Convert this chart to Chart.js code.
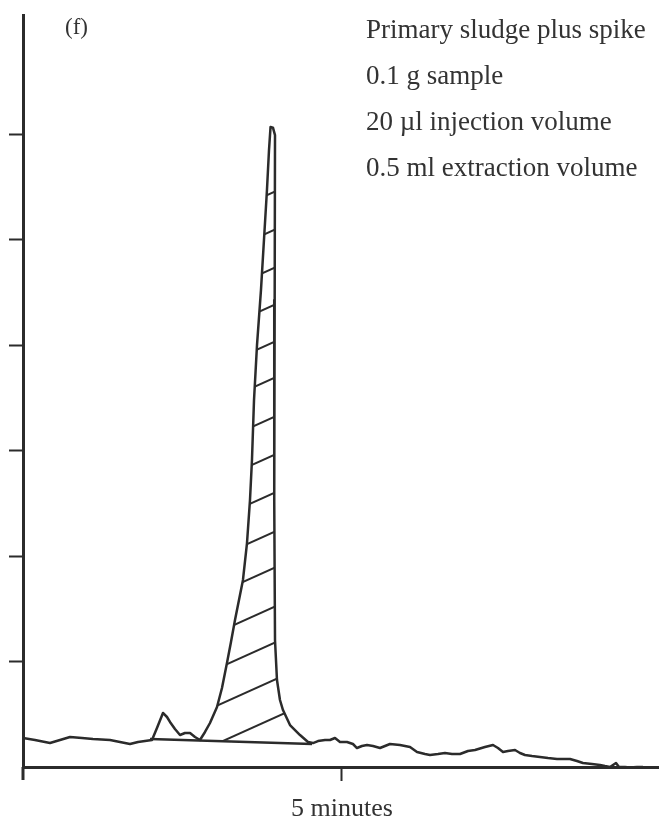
<!DOCTYPE html>
<html>
<head>
<meta charset="utf-8">
<script src="https://cdn.jsdelivr.net/npm/chart.js@4"></script>
<style>
  html, body { margin: 0; padding: 0; background: #fff; }
  #chart { display: block; }
</style>
</head>
<body>
<canvas id="chart" width="659" height="823"></canvas>
<script>
// ---- data (x = minutes, y = detector divisions) ----
const traceX = [0.000, 0.188, 0.423, 0.580, 0.737, 0.925, 1.097, 1.364, 1.520, 1.677, 1.803, 1.912, 2.022,
  2.100, 2.194, 2.257, 2.304, 2.382, 2.461, 2.539, 2.618, 2.696, 2.774,
  2.853, 2.931, 3.041, 3.119, 3.197, 3.260, 3.323, 3.448, 3.511, 3.558, 3.589, 3.621, 3.668, 3.730, 3.777, 3.824, 3.856, 3.880,
  3.918, 3.950, 3.945, 3.938, 3.950, 3.981, 4.028, 4.075, 4.185, 4.342, 4.467,
  4.545, 4.624, 4.734, 4.812, 4.890, 4.969, 5.078, 5.172, 5.235, 5.313, 5.392, 5.486, 5.596, 5.674, 5.752, 5.909,
  6.066, 6.176, 6.301, 6.379, 6.505, 6.614, 6.724, 6.850, 6.975, 7.085, 7.241, 7.367, 7.445, 7.524, 7.602, 7.712,
  7.790, 7.868, 7.978, 8.103, 8.229, 8.370, 8.495, 8.574, 8.683, 8.777, 8.918, 9.044, 9.122, 9.201, 9.248, 9.295,
  9.342, 9.436, 9.514, 9.624, 9.718];
const traceY = [0.275, 0.256, 0.227, 0.256, 0.284, 0.275, 0.265, 0.256, 0.237, 0.218, 0.237, 0.246, 0.256,
  0.370, 0.512, 0.474, 0.427, 0.360, 0.303, 0.322, 0.322, 0.284, 0.256,
  0.332, 0.417, 0.569, 0.749, 0.986, 1.185, 1.393, 1.773, 2.123, 2.531, 2.910, 3.479, 4.000, 4.521, 4.995, 5.469, 5.848, 6.066,
  6.060, 5.990, 4.427, 2.531, 1.204, 0.825, 0.635, 0.540, 0.398, 0.303, 0.237,
  0.227, 0.246, 0.256, 0.256, 0.275, 0.237, 0.237, 0.218, 0.180, 0.199, 0.209, 0.199, 0.180, 0.199, 0.218, 0.209,
  0.190, 0.142, 0.123, 0.114, 0.123, 0.133, 0.123, 0.123, 0.152, 0.161, 0.190, 0.209, 0.180, 0.142, 0.152, 0.161,
  0.133, 0.114, 0.104, 0.095, 0.085, 0.076, 0.076, 0.076, 0.057, 0.038, 0.028, 0.019, 0.009, 0.000, 0.019, 0.038,
  0.000, 0.000, -0.005, 0.000, 0.000];

// drawn baseline under the peaks
const baselineX = [1.991, 4.530];
const baselineY = [0.265, 0.218];

// hatched peak: x range, and hatch lines given by their level at the right edge
const peakStart = 2.774;
const peakEnd = 4.467;
const hatchRefX = 3.934;
const hatchSlope = 0.272;
const hatchY = [0.464, 0.825, 1.175, 1.517, 1.886, 2.227, 2.597, 2.957, 3.318, 3.687, 4.028, 4.379, 4.730, 5.090, 5.450];

// axes
const xTicks = [5];
const yTicks = [1, 2, 3, 4, 5, 6];
const xMax = 9.969;
const yMax = 7.128;

// texts
const panelLabel = "(f)";
const noteLines = ["Primary sludge plus spike", "0.1 g sample", "20 µl injection volume", "0.5 ml extraction volume"];

const ink = "#2b2b2b";
const serif = "'Liberation Serif', 'DejaVu Serif', serif";

// --- hatch lines inside the main peak (clipped to its outline) ---
const hatchPlugin = {
  id: "hatch",
  afterDatasetsDraw(chart) {
    const { ctx } = chart;
    const x = chart.scales.x, y = chart.scales.y;
    ctx.save();
    ctx.beginPath();
    let first = true;
    for (let i = 0; i < traceX.length; i++) {
      if (traceX[i] < peakStart || traceX[i] > peakEnd) continue;
      const px = x.getPixelForValue(traceX[i]);
      const py = y.getPixelForValue(traceY[i]);
      if (first) ctx.moveTo(px, py); else ctx.lineTo(px, py);
      first = false;
    }
    ctx.closePath();
    ctx.clip();
    ctx.strokeStyle = ink;
    ctx.lineWidth = 2;
    hatchY.forEach((v) => {
      ctx.beginPath();
      ctx.moveTo(x.getPixelForValue(peakStart), y.getPixelForValue(v + hatchSlope * (peakStart - hatchRefX)));
      ctx.lineTo(x.getPixelForValue(peakEnd), y.getPixelForValue(v + hatchSlope * (peakEnd - hatchRefX)));
      ctx.stroke();
    });
    ctx.restore();
  }
};

// --- y axis runs a little below the time axis + text notes ---
const extrasPlugin = {
  id: "extras",
  afterDraw(chart) {
    const { ctx, chartArea } = chart;
    ctx.save();
    ctx.strokeStyle = ink;
    ctx.lineWidth = 3;
    ctx.beginPath();
    ctx.moveTo(chartArea.left, chartArea.bottom);
    ctx.lineTo(chartArea.left, chartArea.bottom + 13);
    ctx.stroke();

    ctx.fillStyle = "#333";
    ctx.textBaseline = "alphabetic";
    ctx.font = "23px " + serif;
    ctx.fillText(panelLabel, 65, 34);
    ctx.font = "27px " + serif;
    noteLines.forEach((t, i) => ctx.fillText(t, 366, 38 + i * 46));
    ctx.restore();
  }
};

new Chart(document.getElementById("chart"), {
  type: "line",
  data: {
    datasets: [
      {
        data: traceX.map((v, i) => ({ x: v, y: traceY[i] })),
        borderColor: ink,
        borderWidth: 2.5,
        borderJoinStyle: "round",
        pointRadius: 0,
        tension: 0,
        fill: false
      },
      {
        data: baselineX.map((v, i) => ({ x: v, y: baselineY[i] })),
        borderColor: ink,
        borderWidth: 2.5,
        pointRadius: 0,
        fill: false
      }
    ]
  },
  options: {
    responsive: false,
    animation: false,
    devicePixelRatio: 1,
    layout: { padding: { left: 9, top: 15, right: 0, bottom: 0 } },
    plugins: { legend: { display: false }, tooltip: { enabled: false } },
    scales: {
      x: {
        type: "linear",
        min: 0,
        max: xMax,
        afterBuildTicks: (scale) => { scale.ticks = xTicks.map((v) => ({ value: v })); },
        afterFit: (scale) => { scale.height = 56; },
        grid: { drawOnChartArea: false, drawTicks: true, tickLength: 14, tickWidth: 2, tickColor: ink },
        border: { display: true, width: 3, color: ink },
        ticks: {
          padding: 13,
          maxRotation: 0,
          autoSkip: false,
          color: "#333",
          font: { family: serif, size: 26 },
          callback: (v) => v + " minutes"
        }
      },
      y: {
        min: 0,
        max: yMax,
        afterBuildTicks: (scale) => { scale.ticks = yTicks.map((v) => ({ value: v })); },
        afterFit: (scale) => { scale.width = 14; },
        grid: { drawOnChartArea: false, drawTicks: true, tickLength: 14, tickWidth: 2, tickColor: ink },
        border: { display: true, width: 3, color: ink },
        ticks: { display: false }
      }
    }
  },
  plugins: [hatchPlugin, extrasPlugin]
});
</script>
</body>
</html>
